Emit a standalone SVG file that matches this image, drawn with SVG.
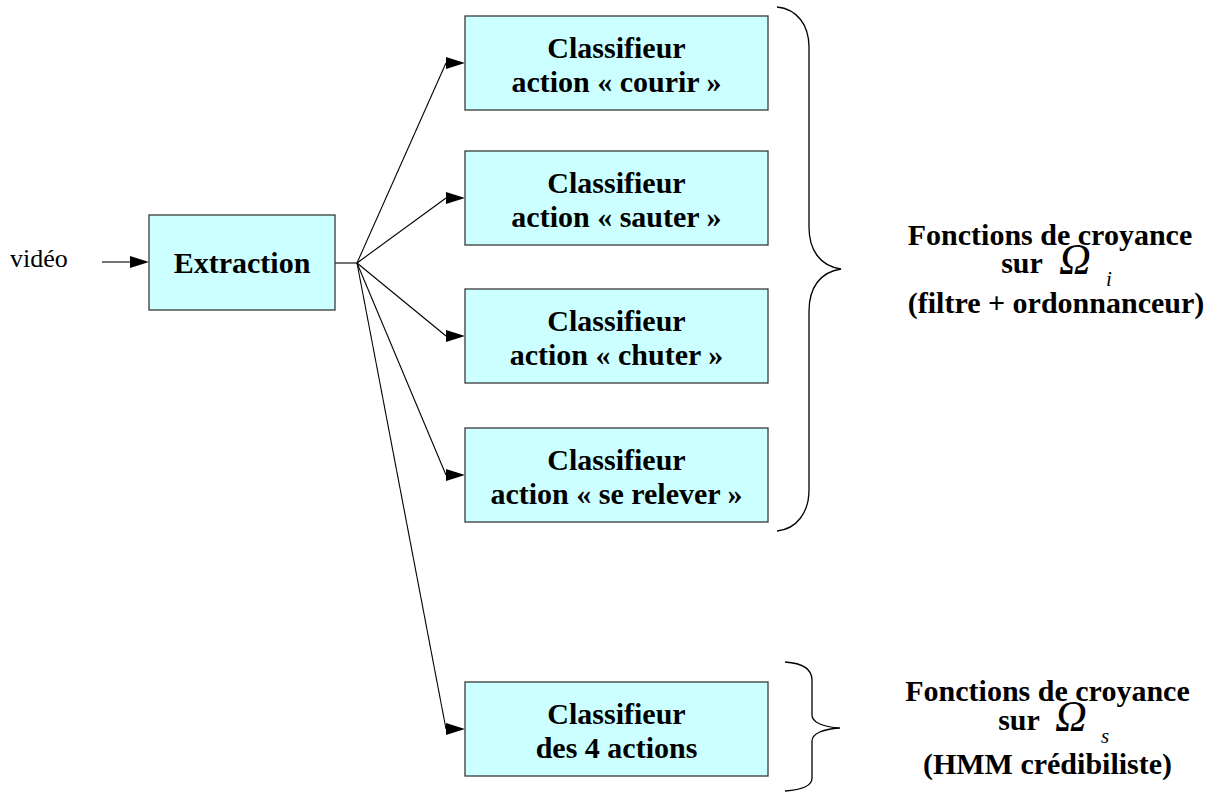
<svg xmlns="http://www.w3.org/2000/svg" width="1219" height="793" viewBox="0 0 1219 793">
<style>
.box{fill:#CCFFFF;stroke:#3a3a3a;stroke-width:1.3}
.t{font-family:"Liberation Serif","Times New Roman",serif;font-weight:bold;font-size:30px;fill:#000;text-anchor:middle}
.r{font-family:"Liberation Serif","Times New Roman",serif;font-size:26px;fill:#000}
.om{font-family:"Liberation Serif","Times New Roman",serif;font-style:italic;font-size:44px;fill:#000}
.sub{font-family:"Liberation Serif","Times New Roman",serif;font-style:italic;font-size:21px;fill:#000}
.ln{stroke:#000;stroke-width:1.1;fill:none}
.ah{fill:#000}
.br{stroke:#000;stroke-width:1.3;fill:none}
</style>
<defs>
<polygon id="head" points="0,0 -19,-6 -19,6"/>
</defs>
<g id="connectors">
<line class="ln" x1="102" y1="262" x2="130" y2="262"/>
<use href="#head" class="ah" x="149" y="262"/>
<polyline class="ln" points="335,263 357,263"/>
<line class="ln" x1="357" y1="263" x2="446" y2="63"/>
<use href="#head" class="ah" x="465" y="63"/>
<line class="ln" x1="357" y1="263" x2="446" y2="198"/>
<use href="#head" class="ah" x="465" y="198"/>
<line class="ln" x1="357" y1="263" x2="446" y2="336"/>
<use href="#head" class="ah" x="465" y="336"/>
<line class="ln" x1="357" y1="263" x2="446" y2="475"/>
<use href="#head" class="ah" x="465" y="475"/>
<line class="ln" x1="357" y1="263" x2="446" y2="729"/>
<use href="#head" class="ah" x="465" y="729"/>
</g>
<g id="input">
<text class="r" x="10" y="267">vidéo</text>
</g>
<g id="extraction">
<rect class="box" x="149" y="215" width="186" height="95"/>
<text class="t" x="242" y="273">Extraction</text>
</g>
<g id="courir">
<rect class="box" x="465" y="16" width="303" height="94"/>
<text class="t" x="616.5" y="58">Classifieur</text>
<text class="t" x="616.5" y="92">action « courir »</text>
</g>
<g id="sauter">
<rect class="box" x="465" y="151" width="303" height="94"/>
<text class="t" x="616.5" y="193">Classifieur</text>
<text class="t" x="616.5" y="227">action « sauter »</text>
</g>
<g id="chuter">
<rect class="box" x="465" y="289" width="303" height="94"/>
<text class="t" x="616.5" y="331">Classifieur</text>
<text class="t" x="616.5" y="365">action « chuter »</text>
</g>
<g id="relever">
<rect class="box" x="465" y="428" width="303" height="94"/>
<text class="t" x="616.5" y="470">Classifieur</text>
<text class="t" x="616.5" y="504">action « se relever »</text>
</g>
<g id="quatre">
<rect class="box" x="465" y="682" width="303" height="94"/>
<text class="t" x="616.5" y="724">Classifieur</text>
<text class="t" x="616.5" y="758">des 4 actions</text>
</g>
<g id="brace-top">
<path class="br" d="M777,7 C797,9 809,25 809,47 L809,227 C809,250 820,266 841,269 C820,272 809,288 809,311 L809,490 C809,512 797,529 777,531"/>
</g>
<g id="brace-bottom">
<path class="br" d="M785,662 C800,663 812,668 812,680 L812,715 C812,722 822,727 840,728 C822,729 812,734 812,741 L812,778 C812,786 800,790 785,791"/>
</g>
<g id="label-top">
<text class="t" x="1050" y="245">Fonctions de croyance</text>
<text class="t" x="1022" y="273">sur</text>
<text class="om" x="1059" y="274">Ω</text>
<text class="sub" x="1106" y="286">i</text>
<text class="t" x="1056" y="313">(filtre + ordonnanceur)</text>
</g>
<g id="label-bottom">
<text class="t" x="1047.5" y="701">Fonctions de croyance</text>
<text class="t" x="1019" y="730">sur</text>
<text class="om" x="1055" y="731">Ω</text>
<text class="sub" x="1101" y="743">s</text>
<text class="t" x="1047.5" y="774">(HMM crédibiliste)</text>
</g>
</svg>
